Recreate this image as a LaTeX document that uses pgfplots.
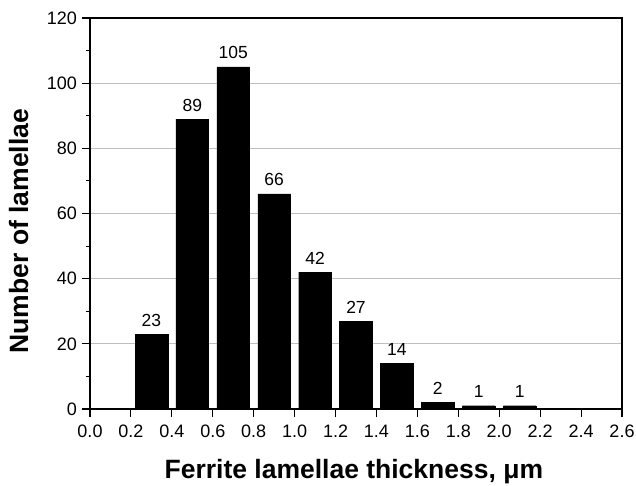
\documentclass[border=0pt]{standalone}
\usepackage{fontspec}
\setmainfont{Liberation Sans}
\usepackage{pgfplots}
\pgfplotsset{compat=1.18}
\begin{document}
\begin{tikzpicture}
\begin{axis}[
  scale only axis, width=532bp, height=391bp,
  xmin=0, xmax=2.6, ymin=0, ymax=120,
  xtick={0,0.2,0.4,0.6,0.8,1.0,1.2,1.4,1.6,1.8,2.0,2.2,2.4,2.6},
  ytick={0,20,40,60,80,100,120},
  minor ytick={10,30,50,70,90,110},
  tick align=outside, tick pos=left,
  major tick length=8bp, minor tick length=4bp,
  every tick/.style={black, line width=1.1bp},
  /pgf/number format/assume math mode=true,
  ticklabel style={font=\fontsize{18bp}{21bp}\selectfont},
  xticklabel style={inner sep=0pt, anchor=north, yshift=-8bp,
    /pgf/number format/fixed, /pgf/number format/fixed zerofill, /pgf/number format/precision=1},
  yticklabel style={inner sep=0pt, anchor=east, xshift=-5bp},
  ymajorgrids, grid style={black!25, line width=0.9bp},
  axis line style={line width=1.3bp},
  xlabel={Ferrite lamellae thickness, μm},
  ylabel={Number of lamellae},
  label style={font=\bfseries\fontsize{26.5bp}{30bp}\selectfont},
  xlabel style={at={(axis description cs:0.496,-0.1765)}, anchor=base, inner sep=0pt},
  ylabel style={at={(axis description cs:-0.1165,0.455)}, anchor=base, inner sep=0pt},
]
\addplot[ybar, bar width=0.16, fill=black, draw=black,
  nodes near coords,
  every node near coord/.append style={font=\fontsize{17.5bp}{20bp}\selectfont, black, anchor=base, inner sep=0pt, yshift=8bp}]
coordinates {
(0.3,23) (0.5,89) (0.7,105) (0.9,66) (1.1,42) (1.3,27) (1.5,14) (1.7,2) (1.9,1) (2.1,1)
};
\end{axis}
\pgfresetboundingbox
\path[use as bounding box] ([xshift=-90bp,yshift=-77bp]current axis.south west) rectangle ([xshift=14bp,yshift=18bp]current axis.north east);
\end{tikzpicture}
\end{document}
